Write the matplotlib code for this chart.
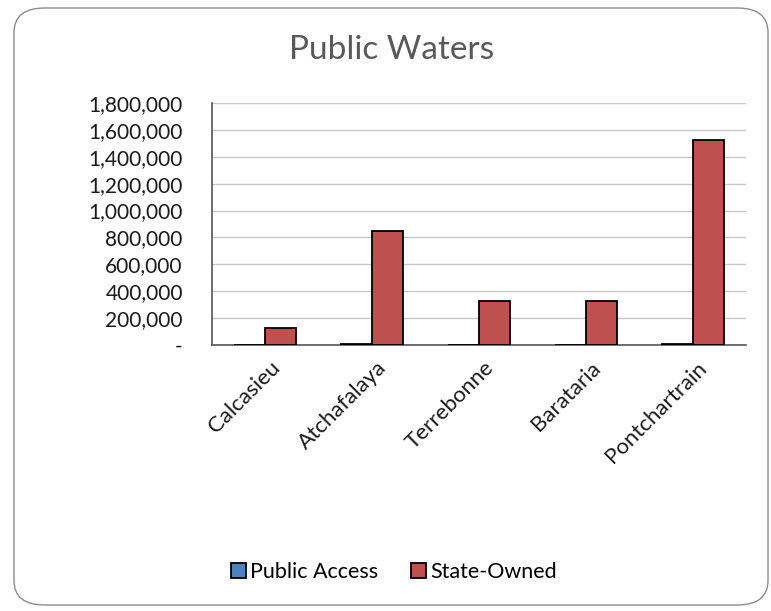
import matplotlib.pyplot as plt
import numpy as np
from matplotlib.patches import FancyBboxPatch
from matplotlib.ticker import FuncFormatter

regions = ['Calcasieu', 'Atchafalaya', 'Terrebonne', 'Barataria', 'Pontchartrain']
public_access = [2000, 10000, 2000, 2000, 10000]
state_owned = [130000, 850000, 330000, 330000, 1522000]

plt.rcParams['font.family'] = ['Lato', 'DejaVu Sans']

fig = plt.figure(figsize=(7.71, 6.11), dpi=100)
ax = fig.add_axes([212 / 771, 1 - 345 / 611, (746 - 212) / 771, (345 - 103) / 611])

# rounded frame round the whole chart
frame = FancyBboxPatch((14 / 771, 6 / 611), 754 / 771, 597 / 611,
                       boxstyle='round,pad=0,rounding_size=0.04',
                       transform=fig.transFigure, facecolor='none',
                       edgecolor='#8c8c8c', linewidth=1.0)
fig.patches.append(frame)

x = np.arange(len(regions))
w = 0.29
ax.bar(x - w / 2, public_access, w, color='#4F81BD', edgecolor='black',
       linewidth=1.3, label='Public Access', zorder=3)
ax.bar(x + w / 2, state_owned, w, color='#C0504D', edgecolor='black',
       linewidth=1.3, label='State-Owned', zorder=3)

ax.set_xlim(-0.5, len(regions) - 0.5)
ax.set_ylim(0, 1800000)
ax.set_yticks(np.arange(0, 1800001, 200000))
ax.yaxis.set_major_formatter(FuncFormatter(lambda v, p: '-' if v == 0 else f'{v:,.0f}'))
ax.grid(axis='y', color='#c8c8c8', linewidth=1.0, zorder=0)
ax.set_axisbelow(True)

for s in ['top', 'right']:
    ax.spines[s].set_visible(False)
ax.spines['left'].set_color('#555555')
ax.spines['bottom'].set_color('#555555')
ax.spines['left'].set_linewidth(1.2)
ax.spines['bottom'].set_linewidth(1.2)

ax.tick_params(axis='y', length=0, pad=21, labelsize=15, labelcolor='#1a1a1a')
ax.tick_params(axis='x', length=0, pad=9)
ax.set_xticks(x + 0.04)
ax.set_xticklabels(regions, rotation=45, ha='right', rotation_mode='anchor',
                   fontsize=16, color='#1a1a1a')

fig.text(392 / 771, 1 - 50 / 611, 'Public Waters', ha='center', va='center',
         fontsize=24, color='#595959')

fig.legend(loc='center', bbox_to_anchor=(394 / 771, 1 - 572 / 611), ncol=2,
           frameon=False, fontsize=15.5, handlelength=0.7, handleheight=0.7,
           handletextpad=0.2, columnspacing=1.5)

fig.savefig('out.png', dpi=100)
